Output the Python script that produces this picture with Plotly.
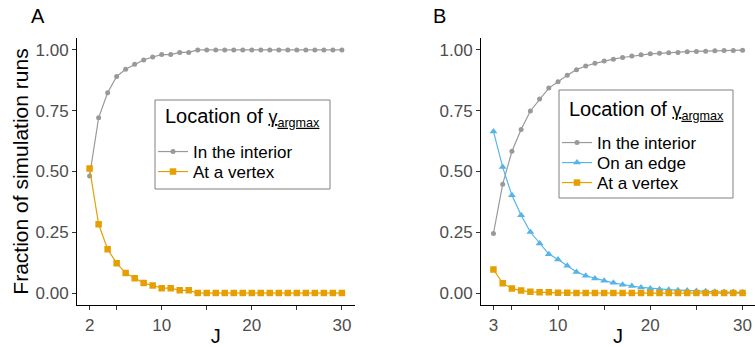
import plotly.graph_objects as go

# ---------------- data ----------------
J_A = [2, 3, 4, 5, 6, 7, 8, 9, 10, 11, 12, 13, 14, 15, 16, 17, 18, 19, 20,
       21, 22, 23, 24, 25, 26, 27, 28, 29, 30]
interior_A = [0.482, 0.721, 0.824, 0.891, 0.921, 0.941, 0.959, 0.971, 0.981,
              0.981, 0.990, 0.990, 1.0, 1.0, 1.0, 1.0, 1.0, 1.0, 1.0, 1.0,
              1.0, 1.0, 1.0, 1.0, 1.0, 1.0, 1.0, 1.0, 1.0]
vertex_A = [0.512, 0.283, 0.180, 0.123, 0.082, 0.061, 0.041, 0.031, 0.020,
            0.020, 0.011, 0.011, 0.0, 0.0, 0.0, 0.0, 0.0, 0.0, 0.0, 0.0,
            0.0, 0.0, 0.0, 0.0, 0.0, 0.0, 0.0, 0.0, 0.0]

J_B = [3, 4, 5, 6, 7, 8, 9, 10, 11, 12, 13, 14, 15, 16, 17, 18, 19, 20,
       21, 22, 23, 24, 25, 26, 27, 28, 29, 30]
interior_B = [0.245, 0.448, 0.583, 0.673, 0.749, 0.798, 0.843, 0.869, 0.896,
              0.919, 0.934, 0.945, 0.955, 0.962, 0.969, 0.975, 0.980, 0.984,
              0.986, 0.989, 0.990, 0.993, 0.994, 0.995, 0.997, 0.998, 0.998,
              0.999]
edge_B = [0.665, 0.518, 0.402, 0.320, 0.251, 0.204, 0.160, 0.138, 0.112,
          0.087, 0.071, 0.060, 0.051, 0.042, 0.034, 0.029, 0.023, 0.019,
          0.016, 0.014, 0.012, 0.010, 0.008, 0.007, 0.005, 0.004, 0.004,
          0.003]
vertex_B = [0.097, 0.040, 0.019, 0.010, 0.005, 0.003, 0.003, 0.001, 0.001,
            0.0, 0.0, 0.0, 0.0, 0.0, 0.0, 0.0, 0.0, 0.0, 0.0, 0.0, 0.0, 0.0,
            0.0, 0.0, 0.0, 0.0, 0.0, 0.0]

y_ticks = [0, 0.25, 0.5, 0.75, 1.0]
y_ticktext = ["0.00", "0.25", "0.50", "0.75", "1.00"]
xA_ticks = [2, 5, 10, 15, 20, 25, 30]
xA_ticktext = ["2", "", "10", "", "20", "", "30"]
xB_ticks = [3, 5, 10, 15, 20, 25, 30]
xB_ticktext = ["3", "", "10", "", "20", "", "30"]

label_interior = "In the interior"
label_edge = "On an edge"
label_vertex = "At a vertex"
legend_title = ("Location of <span style='font-size:18px'><u>γ<sub>argmax</sub></u></span>")

GRAY = "#999999"
BLUE = "#56B4E9"
ORANGE = "#E69F00"
FONT = "Liberation Sans, Arial, sans-serif"

W, H = 755, 347
px = lambda v: v / W
py = lambda v: 1 - v / H
ydom = [py(305.2), py(37.8)]

fig = go.Figure()

legend_common = dict(xanchor="left", yanchor="middle",
                     bgcolor="rgba(0,0,0,0)", borderwidth=0,
                     font=dict(size=17, color="black", family=FONT),
                     itemwidth=30)
legend_layout = {}

def add(x, y, name, color, symbol, size, panel, leg, lx, ly):
    fig.add_trace(go.Scatter(
        x=x, y=y, name=name, mode="lines+markers",
        line=dict(color=color, width=1.2),
        marker=dict(color=color, symbol=symbol, size=size, line=dict(width=0)),
        xaxis="x" if panel == "A" else "x2",
        yaxis="y" if panel == "A" else "y2", legend=leg))
    legend_layout[leg] = dict(x=px(lx), y=py(ly), **legend_common)

add(J_A, interior_A, label_interior, GRAY, "circle", 5, "A", "legend", 153, 152)
add(J_A, vertex_A, label_vertex, ORANGE, "square", 6.5, "A", "legend2", 153, 172)
add(J_B, interior_B, label_interior, GRAY, "circle", 5, "B", "legend3", 557, 143)
add(J_B, edge_B, label_edge, BLUE, "triangle-up", 7, "B", "legend4", 557, 163)
add(J_B, vertex_B, label_vertex, ORANGE, "square", 6.5, "B", "legend5", 557, 183)

axis_common = dict(showline=True, linecolor="black", linewidth=1,
                   ticks="outside", ticklen=4, tickcolor="#333333",
                   tickfont=dict(size=17, color="#4D4D4D", family=FONT),
                   showgrid=False, zeroline=False, tickmode="array",
                   automargin=False)

xtitle = dict(text="J", font=dict(size=20, color="black", family=FONT), standoff=2)

fig.update_layout(
    width=W, height=H, autosize=False,
    margin=dict(l=0, r=0, t=0, b=0, autoexpand=False),
    paper_bgcolor="white", plot_bgcolor="white",
    font=dict(family=FONT, color="black"),
    xaxis=dict(domain=[px(77), px(354.5)], range=[0.6, 31.4],
               tickvals=xA_ticks, ticktext=xA_ticktext, title=xtitle,
               anchor="y", **axis_common),
    yaxis=dict(domain=ydom, range=[-0.05, 1.05], tickvals=y_ticks,
               ticktext=y_ticktext, anchor="x",
               title=dict(text="Fraction of simulation runs",
                          font=dict(size=21, color="black", family=FONT),
                          standoff=1),
               **axis_common),
    xaxis2=dict(domain=[px(481), 1.0], range=[1.65, 31.35],
                tickvals=xB_ticks, ticktext=xB_ticktext, title=xtitle,
                anchor="y2", **axis_common),
    yaxis2=dict(domain=ydom, range=[-0.05, 1.05], tickvals=y_ticks,
                ticktext=y_ticktext, anchor="x2", **axis_common),
    showlegend=True,
    **legend_layout,
)

# legend boxes and titles
for (x0, y0, x1, y1) in [(155, 100, 330, 189), (559, 90, 733, 198)]:
    fig.add_shape(type="rect", xref="paper", yref="paper",
                  x0=px(x0), x1=px(x1), y0=py(y1), y1=py(y0),
                  line=dict(color="#808080", width=1), fillcolor="white",
                  layer="below")
for (tx, ty) in [(163, 118), (567, 110)]:
    fig.add_annotation(text=legend_title, x=px(tx), y=py(ty), xref="paper",
                       yref="paper", xanchor="left", yanchor="middle",
                       showarrow=False, align="left",
                       font=dict(size=20, color="black", family=FONT))

fig.add_annotation(text="A", x=px(29), y=py(16), xref="paper", yref="paper",
                   xanchor="left", yanchor="middle", showarrow=False,
                   font=dict(size=20, color="black", family=FONT))
fig.add_annotation(text="B", x=px(431), y=py(16), xref="paper", yref="paper",
                   xanchor="left", yanchor="middle", showarrow=False,
                   font=dict(size=20, color="black", family=FONT))

fig.write_html("out.html", config={"displayModeBar": False},
               post_script="document.body.style.margin='0';document.body.style.overflow='hidden';")
